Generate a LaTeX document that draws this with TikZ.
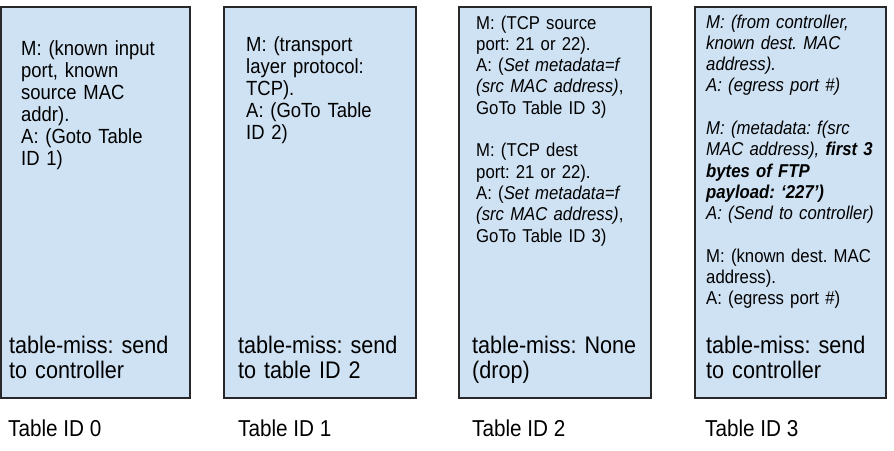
\documentclass[tikz,border=0pt]{standalone}
\usepackage{fontspec}
\setmainfont{Liberation Sans}[FakeStretch=0.9]
\frenchspacing
\definecolor{boxblue}{RGB}{207,226,243}
\definecolor{boxline}{RGB}{40,40,40}
\begin{document}
\begin{tikzpicture}[x=1pt,y=-1pt,
  tablebox/.style={draw=boxline,line width=1.6pt,fill=boxblue},
  rules/.style={anchor=base west,inner sep=0pt,align=left,text width=185pt,
    font=\fontsize{18.6}{21.3}\selectfont},
  rulesw/.style={rules,font=\fontsize{20.5}{22}\selectfont},
  miss/.style={anchor=base west,inner sep=0pt,align=left,text width=185pt,
    font=\fontsize{24}{25}\selectfont},
  tlabel/.style={anchor=base west,inner sep=0pt,font=\fontsize{23}{25}\selectfont}]
\useasboundingbox (0,0) rectangle (894,450);
% boxes
\draw[tablebox] (1,7) rectangle (190,398) node[coordinate] (b0) {};
\draw[tablebox] (224,7) rectangle (416,398) node[coordinate] (b1) {};
\draw[tablebox] (459,7) rectangle (651,398) node[coordinate] (b2) {};
\draw[tablebox] (695,7) rectangle (886,398) node[coordinate] (b3) {};
% Table 0
\node[rulesw] (r0) at (21,55) {M: (known input\\port, known\\source MAC\\addr).\\A: (Goto Table\\ID 1)};
\node[miss] (m0) at (9,353) {table-miss: send\\to controller};
\node[tlabel] (l0) at (8,436) {Table ID 0};
% Table 1
\node[rulesw] (r1) at (246,51) {M: (transport\\layer protocol:\\TCP).\\A: (GoTo Table\\ID 2)};
\node[miss] (m1) at (238,353) {table-miss: send\\to table ID 2};
\node[tlabel] (l1) at (238,436) {Table ID 1};
% Table 2
\node[rules] (r2) at (476,29) {M: (TCP source\\port: 21 or 22).\\A: (\textit{Set metadata=f}\\\textit{(src MAC address)},\\GoTo Table ID 3)\\[21.3pt]M: (TCP dest\\port: 21 or 22).\\A: (\textit{Set metadata=f}\\\textit{(src MAC address)},\\GoTo Table ID 3)};
\node[miss] (m2) at (472,353) {table-miss: None\\(drop)};
\node[tlabel] (l2) at (472,436) {Table ID 2};
% Table 3
\node[rules] (r3) at (706,28) {\textit{M: (from controller,}\\\textit{known dest. MAC}\\\textit{address).}\\\textit{A: (egress port \#)}\\[21.3pt]\textit{M: (metadata: f(src}\\\textit{MAC address), \textbf{first 3}}\\\textit{\textbf{bytes of FTP}}\\\textit{\textbf{payload: ‘227’)}}\\\textit{A: (Send to controller)}\\[21.3pt]M: (known dest. MAC\\address).\\A: (egress port \#)};
\node[miss] (m3) at (706,353) {table-miss: send\\to controller};
\node[tlabel] (l3) at (705,436) {Table ID 3};
\end{tikzpicture}
\end{document}
